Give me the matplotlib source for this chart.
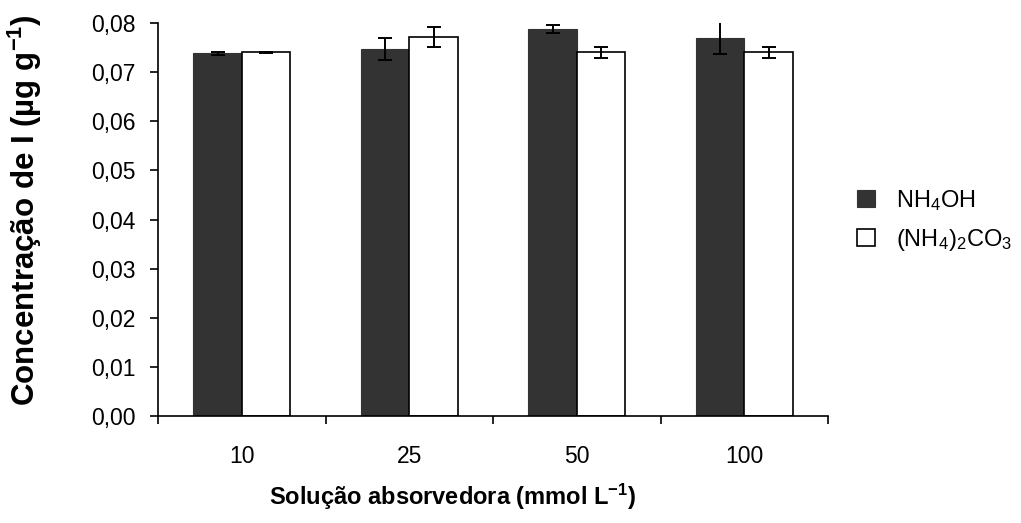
import numpy as np
import matplotlib
matplotlib.use('Agg')
import matplotlib.pyplot as plt
from matplotlib.ticker import FixedLocator, FuncFormatter

plt.rcParams['font.family'] = ['Liberation Sans', 'DejaVu Sans']
plt.rcParams['mathtext.fontset'] = 'custom'
plt.rcParams['mathtext.rm'] = 'Liberation Sans'
plt.rcParams['mathtext.it'] = 'Liberation Sans'
plt.rcParams['mathtext.bf'] = 'Liberation Sans:bold'

#%% data
concentracoes = ['10', '25', '50', '100']
nh4oh = [0.0738, 0.0747, 0.0788, 0.0770]
nh4oh_err = [0.0004, 0.0022, 0.0008, 0.0034]
carbonato = [0.0740, 0.0772, 0.0740, 0.0740]
carbonato_err = [0.0002, 0.0020, 0.0012, 0.0012]

#%% plot
fig = plt.figure(figsize=(10.21, 5.23), dpi=100)
ax = fig.add_axes([0.1548, 0.2046, 0.6562, 0.7514])

x = np.arange(len(concentracoes))
w = 0.29
ax.bar(x - w/2, nh4oh, w, color='#333333', edgecolor='#333333', linewidth=0.8,
       yerr=nh4oh_err, capsize=5, error_kw=dict(elinewidth=1.4, capthick=1.4, ecolor='black'),
       label='NH$_4$OH', zorder=2)
ax.bar(x + w/2, carbonato, w, color='white', edgecolor='black', linewidth=1.2,
       yerr=carbonato_err, capsize=5, error_kw=dict(elinewidth=1.4, capthick=1.4, ecolor='black'),
       label='(NH$_4$)$_2$CO$_3$', zorder=2)

ax.set_xlim(-0.5, len(concentracoes) - 0.5)
ax.set_ylim(0, 0.08)
ax.set_yticks(np.arange(0, 0.0801, 0.01))
ax.yaxis.set_major_formatter(FuncFormatter(lambda v, p: ('%.2f' % v).replace('.', ',')))
ax.set_xticks(x)
ax.set_xticklabels(concentracoes)
ax.xaxis.set_minor_locator(FixedLocator(np.arange(-0.5, len(concentracoes), 1.0)))
ax.tick_params(axis='x', which='major', length=0, pad=21, labelsize=16.5)
ax.tick_params(axis='x', which='minor', length=6, width=1.2, direction='out')
ax.tick_params(axis='y', length=6, width=1.2, direction='out', labelsize=16.5, pad=10)

for s in ['top', 'right']:
    ax.spines[s].set_visible(False)
for s in ['left', 'bottom']:
    ax.spines[s].set_linewidth(1.2)

ax.set_ylabel('Concentração de I (µg g$^{\\mathbf{-1}}$)', fontsize=22.5, fontweight='bold')
ax.set_xlabel('Solução absorvedora (mmol L$^{\\mathbf{-1}}$)', fontsize=17, fontweight='bold')
ax.yaxis.set_label_coords(-0.17, 0.524)
ax.xaxis.set_label_coords(0.439, -0.168)

fig.legend(loc='upper left', bbox_to_anchor=(857/1021, 1 - 188/523), frameon=False, fontsize=17,
           borderpad=0, borderaxespad=0, handlelength=0.75, handleheight=0.75,
           handletextpad=0.9, labelspacing=0.6)

fig.savefig('out.png', dpi=100)
plt.close()
